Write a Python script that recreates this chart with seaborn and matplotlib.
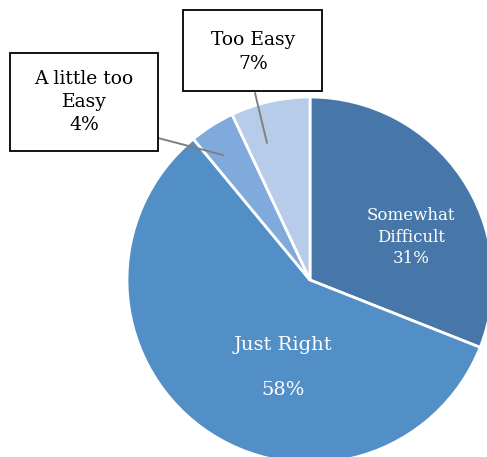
import matplotlib
matplotlib.use("Agg")
import matplotlib.pyplot as plt
from matplotlib.patches import Rectangle
import seaborn as sns

categories = ["Somewhat Difficult", "Just Right", "A little too Easy", "Too Easy"]
shares = [31, 58, 4, 7]
colors = ["#4677A8", "#538FC7", "#80AADB", "#B7CCE8"]

sns.set_theme(style="white")
plt.rcParams["font.family"] = ["DejaVu Serif"]

W, H = 487, 457
fig = plt.figure(figsize=(W / 100, H / 100), dpi=100)
ax = fig.add_axes([0, 0, 1, 1])

cx, cy, r = 310, 280, 183
wedges, _ = ax.pie(
    shares,
    colors=colors,
    startangle=90,
    counterclock=False,
    center=(cx, cy),
    radius=r,
    wedgeprops=dict(edgecolor="white", linewidth=2.0),
    frame=True,
)
# pie() draws in y-up convention; flip each wedge into the inverted axis
for w in wedges:
    w.set_center((cx, cy))
    w.theta1, w.theta2 = -w.theta2, -w.theta1
    w._recompute_path()
ax.set_xlim(0, W)
ax.set_ylim(H, 0)
ax.axis("off")

# labels inside the large slices
ax.text(411, 237, f"Somewhat\nDifficult\n{shares[0]}%", color="white",
        ha="center", va="center", fontsize=12, linespacing=1.32)
ax.text(283, 345, "Just Right", color="white", ha="center", va="center", fontsize=14)
ax.text(283, 390, f"{shares[1]}%", color="white", ha="center", va="center", fontsize=14)

# callouts for the small slices
ax.plot([158, 223], [138, 155], color="#808080", lw=1.4, zorder=5)
ax.plot([255, 267], [93, 143], color="#808080", lw=1.4, zorder=5)

ax.add_patch(Rectangle((10, 53), 148, 98, facecolor="white", edgecolor="black", lw=1.3, zorder=6))
ax.text(84, 102, f"A little too\nEasy\n{shares[2]}%", ha="center", va="center",
        fontsize=13.5, linespacing=1.38, zorder=7, color="black")

ax.add_patch(Rectangle((183, 10), 139, 81, facecolor="white", edgecolor="black", lw=1.3, zorder=6))
ax.text(253, 52, f"Too Easy\n{shares[3]}%", ha="center", va="center",
        fontsize=13.5, linespacing=1.38, zorder=7, color="black")

fig.savefig("out.png", dpi=100)
